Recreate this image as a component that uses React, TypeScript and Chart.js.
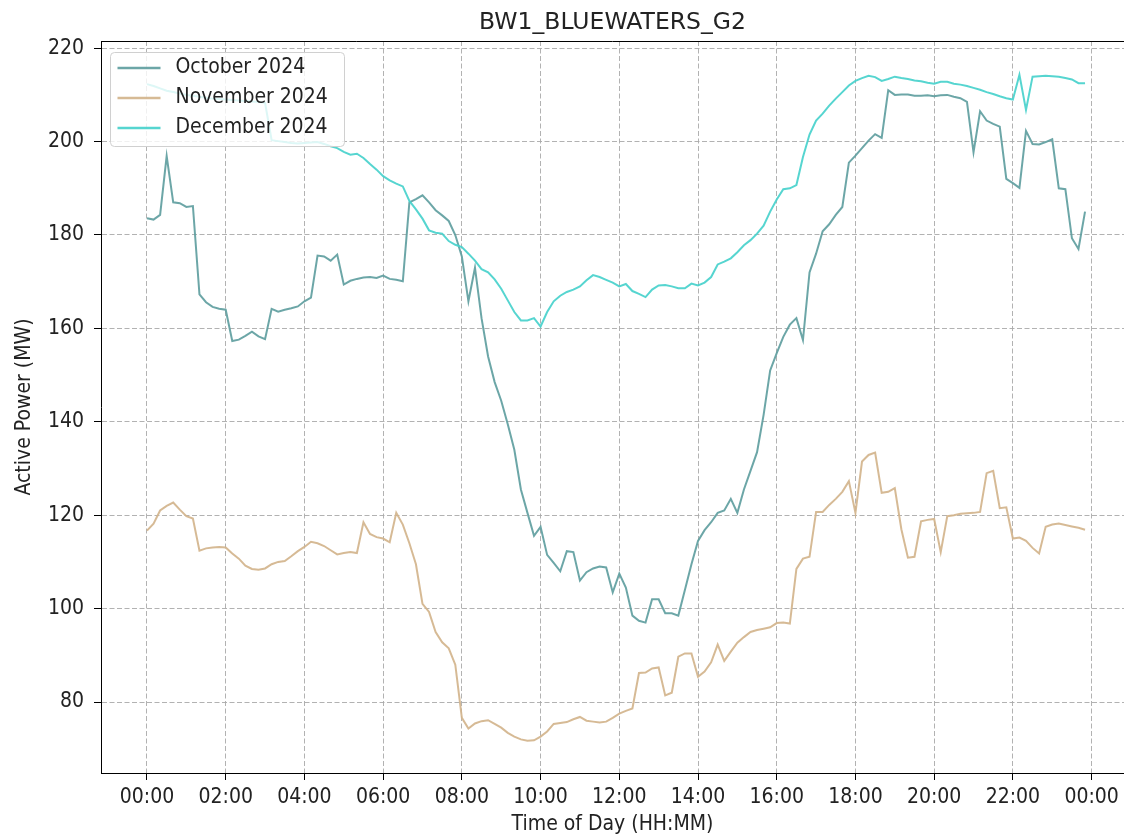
import React, { useEffect, useRef } from 'react';
import { Chart, registerables } from 'chart.js';

Chart.register(...registerables);

const TITLE = 'BW1_BLUEWATERS_G2';
const X_LABEL = 'Time of Day (HH:MM)';
const Y_LABEL = 'Active Power (MW)';
const SERIES_NAMES = ['October 2024', 'November 2024', 'December 2024'];

// minutes after midnight, one sample every 10 minutes (00:00 .. 23:50)
const TIMES_MIN = Array.from({ length: 144 }, (_, i) => i * 10);

const X_TICK_VALUES = [0, 120, 240, 360, 480, 600, 720, 840, 960, 1080, 1200, 1320, 1440];
const X_TICK_LABELS = ['00:00', '02:00', '04:00', '06:00', '08:00', '10:00', '12:00', '14:00', '16:00', '18:00', '20:00', '22:00', '00:00'];
const Y_TICK_VALUES = [80, 100, 120, 140, 160, 180, 200, 220];

const OCT = [
  183.6, 183.3, 184.3, 196.9, 187.0, 186.8, 186.0, 186.2, 167.3, 165.6,
  164.6, 164.2, 164.0, 157.3, 157.6, 158.4, 159.3, 158.3, 157.7, 164.2,
  163.6, 164.0, 164.3, 164.7, 165.8, 166.6, 175.6, 175.4, 174.5, 175.8,
  169.4, 170.2, 170.6, 170.9, 171.0, 170.8, 171.3, 170.6, 170.4, 170.1,
  187.0, 187.7, 188.5, 187.0, 185.3, 184.2, 183.0, 180.0, 175.4, 165.8,
  173.0, 162.2, 154.0, 148.5, 144.5, 139.5, 134.0, 125.5, 120.5, 115.6,
  117.5, 111.5, 109.8, 108.0, 112.3, 112.1, 106.0, 107.8, 108.6, 109.0,
  108.8, 103.5, 107.5, 104.5, 98.5, 97.4, 97.0, 102.0, 102.0, 99.0,
  99.0, 98.5, 104.0, 109.5, 114.5, 116.8, 118.5, 120.5, 121.0, 123.5,
  120.5, 125.5, 129.5, 133.5, 141.5, 151.0, 154.7, 158.2, 160.8, 162.2,
  157.5, 172.0, 176.0, 180.8, 182.3, 184.3, 186.0, 195.5, 197.0, 198.6,
  200.2, 201.6, 200.8, 211.0, 210.0, 210.1, 210.1, 209.8, 209.8, 209.9,
  209.7, 209.9, 210.0, 209.6, 209.3, 208.5, 197.7, 206.5, 204.5, 203.8,
  203.2, 192.0, 191.1, 190.1, 202.3, 199.5, 199.4, 199.9, 200.5, 190.0,
  189.8, 179.3, 177.0, 185.0,
];

const NOV = [
  116.7, 118.2, 121.0, 122.0, 122.7, 121.2, 119.8, 119.3, 112.4, 112.9,
  113.1, 113.2, 113.1, 111.8, 110.7, 109.2, 108.5, 108.3, 108.6, 109.5,
  110.0, 110.2, 111.2, 112.3, 113.2, 114.3, 114.0, 113.4, 112.5, 111.6,
  111.9, 112.1, 111.9, 118.5, 116.0, 115.3, 115.0, 114.2, 120.5, 118.0,
  114.0, 109.5, 101.0, 99.3, 95.0, 92.8, 91.5, 88.0, 76.6, 74.3,
  75.4, 75.9, 76.1, 75.3, 74.5, 73.4, 72.6, 72.0, 71.7, 71.8,
  72.6, 73.7, 75.3, 75.5, 75.7, 76.3, 76.8, 76.0, 75.8, 75.6,
  75.8, 76.6, 77.5, 78.1, 78.6, 86.2, 86.3, 87.2, 87.4, 81.4,
  82.0, 89.7, 90.4, 90.4, 85.4, 86.5, 88.5, 92.3, 88.8, 90.8,
  92.7, 93.9, 95.0, 95.4, 95.7, 96.0, 96.9, 97.0, 96.8, 108.5,
  110.7, 111.1, 120.7, 120.7, 122.2, 123.5, 125.0, 127.3, 120.5, 131.5,
  132.9, 133.4, 124.8, 125.0, 125.8, 117.0, 110.9, 111.1, 118.7, 119.0,
  119.2, 112.1, 119.8, 120.0, 120.3, 120.4, 120.5, 120.7, 129.0, 129.5,
  121.5, 121.7, 115.0, 115.2, 114.5, 113.0, 111.8, 117.5, 118.0, 118.2,
  117.9, 117.6, 117.3, 116.9,
];

const DEC = [
  212.3, 211.9, 211.4, 210.9, 210.6, 210.3, 210.0, 209.8, 209.6, 209.4,
  209.2, 209.1, 209.0, 208.9, 208.8, 208.7, 208.6, 208.5, 208.3, 200.3,
  200.1, 199.9, 199.7, 199.6, 199.7, 199.8, 199.9, 199.5, 199.0, 198.6,
  197.8, 197.2, 197.4, 196.5, 195.2, 194.0, 192.6, 191.7, 191.0, 190.4,
  187.3, 185.5, 183.5, 181.0, 180.5, 180.3, 178.7, 177.9, 177.4, 176.0,
  174.5, 172.7, 172.0, 170.5, 168.5, 166.0, 163.5, 161.7, 161.7, 162.2,
  160.4, 163.5, 165.8, 167.0, 167.8, 168.3, 169.0, 170.3, 171.4, 171.0,
  170.4, 169.8, 169.0, 169.5, 168.0, 167.4, 166.7, 168.3, 169.2, 169.3,
  169.0, 168.6, 168.6, 169.6, 169.2, 169.8, 171.0, 173.7, 174.3, 175.0,
  176.3, 177.8, 178.9, 180.3, 182.0, 185.0, 187.6, 189.8, 190.0, 190.7,
  196.7, 201.5, 204.5, 206.0, 207.7, 209.2, 210.6, 212.0, 213.0, 213.6,
  214.1, 213.8, 213.0, 213.4, 213.9, 213.6, 213.4, 213.1, 212.9, 212.6,
  212.4, 212.8, 212.8, 212.4, 212.2, 211.9, 211.5, 211.1, 210.6, 210.2,
  209.7, 209.3, 209.0, 214.3, 206.8, 213.9, 214.0, 214.1, 214.0, 213.9,
  213.6, 213.3, 212.5, 212.5,
];

const COLORS = ['rgba(95,158,160,0.92)', 'rgba(210,180,140,0.92)', 'rgba(72,209,204,0.92)'];

const COND = "'DejaVu Sans Condensed', 'DejaVu Sans', sans-serif";
const TEXT_COLOR = '#222222';

const overlayPlugin = {
  id: 'overlay',
  afterDraw(chart: any) {
    const ctx = chart.ctx as CanvasRenderingContext2D;
    const { left, right, top } = chart.chartArea;
    ctx.save();
    // top spine
    ctx.strokeStyle = '#000';
    ctx.lineWidth = 1;
    ctx.beginPath();
    ctx.moveTo(left, Math.round(top) + 0.5);
    ctx.lineTo(right, Math.round(top) + 0.5);
    ctx.stroke();

    // title
    ctx.fillStyle = TEXT_COLOR;
    ctx.font = "23.5px 'DejaVu Sans', sans-serif";
    ctx.textAlign = 'center';
    ctx.textBaseline = 'middle';
    ctx.fillText(TITLE, (left + right) / 2, 22.4);

    // legend box (upper left, inside the axes)
    const bx = left + 9.5;
    const by = top + 11.5;
    const bw = 234;
    const bh = 94;
    const r = 4;
    ctx.beginPath();
    ctx.moveTo(bx + r, by);
    ctx.lineTo(bx + bw - r, by);
    ctx.quadraticCurveTo(bx + bw, by, bx + bw, by + r);
    ctx.lineTo(bx + bw, by + bh - r);
    ctx.quadraticCurveTo(bx + bw, by + bh, bx + bw - r, by + bh);
    ctx.lineTo(bx + r, by + bh);
    ctx.quadraticCurveTo(bx, by + bh, bx, by + bh - r);
    ctx.lineTo(bx, by + r);
    ctx.quadraticCurveTo(bx, by, bx + r, by);
    ctx.closePath();
    ctx.fillStyle = 'rgba(255,255,255,0.8)';
    ctx.fill();
    ctx.strokeStyle = '#d0d0d0';
    ctx.lineWidth = 1;
    ctx.stroke();

    ctx.font = `21px ${COND}`;
    ctx.textAlign = 'left';
    ctx.textBaseline = 'middle';
    chart.data.datasets.forEach((ds: any, i: number) => {
      const y = by + 15.5 + i * 30;
      ctx.strokeStyle = ds.borderColor;
      ctx.lineWidth = 2.5;
      ctx.beginPath();
      ctx.moveTo(bx + 7, y);
      ctx.lineTo(bx + 50, y);
      ctx.stroke();
      ctx.fillStyle = TEXT_COLOR;
      ctx.fillText(ds.label, bx + 65, y);
    });
    ctx.restore();
  },
};

export default function App() {
  const canvasRef = useRef<HTMLCanvasElement | null>(null);

  useEffect(() => {
    const canvas = canvasRef.current;
    if (!canvas) return;
    const seriesValues = [OCT, NOV, DEC];
    const chart = new Chart(canvas, {
      type: 'line',
      data: {
        datasets: SERIES_NAMES.map((name, s) => ({
          label: name,
          data: TIMES_MIN.map((t, i) => ({ x: t, y: seriesValues[s][i] })),
          borderColor: COLORS[s],
          backgroundColor: COLORS[s],
          borderWidth: 2,
          pointRadius: 0,
          tension: 0,
          fill: false,
          order: 2 - s,
        })),
      },
      options: {
        animation: false,
        responsive: false,
        devicePixelRatio: 1,
        layout: { padding: { top: 41, left: 0, right: 0, bottom: 0 } },
        plugins: {
          legend: { display: false },
          title: { display: false },
          tooltip: { enabled: false },
        },
        scales: {
          x: {
            type: 'linear',
            min: -70.1,
            max: 1489.4,
            afterBuildTicks: (scale: any) => {
              scale.ticks = X_TICK_VALUES.map((v) => ({ value: v }));
            },
            afterFit: (scale: any) => {
              scale.height = 63;
            },
            ticks: {
              autoSkip: false,
              maxRotation: 0,
              padding: 5,
              color: TEXT_COLOR,
              font: { family: COND, size: 21 },
              callback: (v: any) => {
                const idx = X_TICK_VALUES.indexOf(Number(v));
                return idx >= 0 ? X_TICK_LABELS[idx] : '';
              },
            },
            grid: {
              color: 'rgba(170,170,170,0.9)',
              lineWidth: 1,
              drawTicks: true,
              tickLength: 7,
              tickColor: '#000',
              tickWidth: 1,
              tickBorderDash: [],
            },
            border: { display: true, color: '#000', width: 1, dash: [5, 2.5] },
            title: {
              display: true,
              text: X_LABEL,
              color: TEXT_COLOR,
              font: { family: COND, size: 21, lineHeight: 1.0 },
              padding: { top: 0, bottom: 0.5 },
            },
          },
          y: {
            type: 'linear',
            min: 64.8,
            max: 221.54,
            afterBuildTicks: (scale: any) => {
              scale.ticks = Y_TICK_VALUES.map((v) => ({ value: v }));
            },
            afterFit: (scale: any) => {
              scale.width = 101;
            },
            ticks: {
              padding: 10,
              color: TEXT_COLOR,
              font: { family: COND, size: 21 },
            },
            grid: {
              color: 'rgba(170,170,170,0.9)',
              lineWidth: 1,
              drawTicks: true,
              tickLength: 7,
              tickColor: '#000',
              tickWidth: 1,
              tickBorderDash: [],
            },
            border: { display: true, color: '#000', width: 1, dash: [5, 2.5] },
            title: {
              display: true,
              text: Y_LABEL,
              color: TEXT_COLOR,
              font: { family: COND, size: 21 },
              padding: { top: 12.4, bottom: 0 },
            },
          },
        },
      },
      plugins: [overlayPlugin],
    } as any);
    return () => chart.destroy();
  }, []);

  return (
    <div style={{ position: 'fixed', left: 0, top: 0, width: 1124, height: 836, background: '#ffffff' }}>
      <canvas ref={canvasRef} width={1124} height={836} style={{ display: 'block' }} />
    </div>
  );
}
